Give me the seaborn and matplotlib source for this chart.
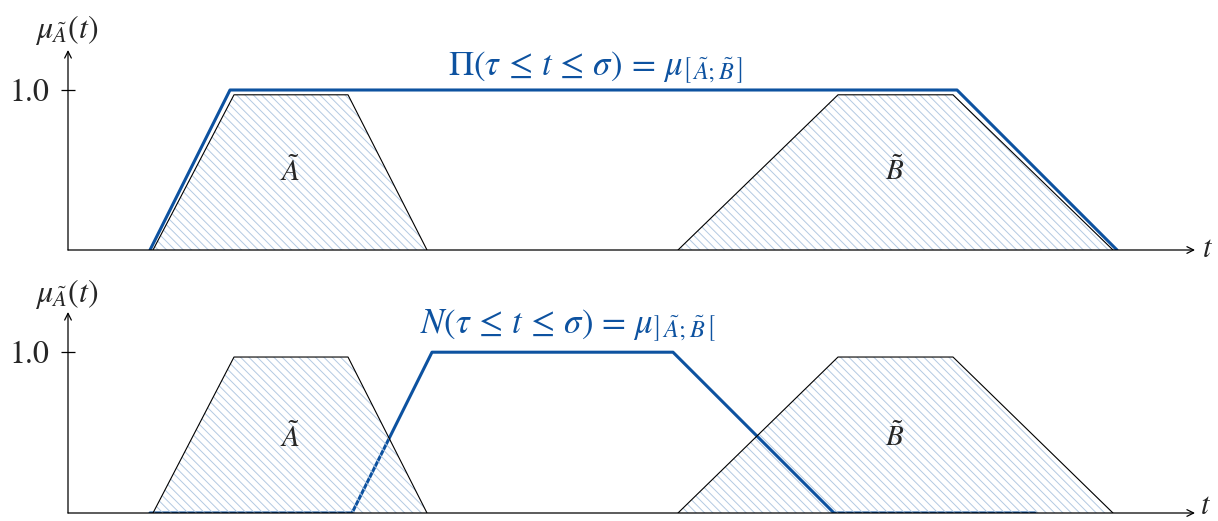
import matplotlib
matplotlib.use("Agg")
import matplotlib.pyplot as plt
import seaborn as sns
import pandas as pd

# Trapezoidal fuzzy intervals (time axis, membership degree)
t_A = [8.5, 16.6, 28.0, 35.9]
mu_A = [0.0, 0.97, 0.97, 0.0]
t_B = [61.0, 77.0, 88.5, 104.5]
mu_B = [0.0, 0.97, 0.97, 0.0]

# Possibility of the interval [A;B]
t_pi = [8.2, 16.2, 88.9, 104.9]
mu_pi = [0.0, 1.0, 1.0, 0.0]

# Necessity of the interval ]A;B[
t_nec = [8.2, 28.4, 36.4, 60.5, 76.6, 96.7]
mu_nec = [0.0, 0.0, 1.0, 1.0, 0.0, 0.0]

y_ticks = [1.0]
y_tick_labels = ["1.0"]

BLUE = "#0d52a0"
HATCH = "#b3c9e2"

sns.set_theme(style="white")
plt.rcParams["font.family"] = ["STIXGeneral", "DejaVu Serif"]
plt.rcParams["mathtext.fontset"] = "stix"
plt.rcParams["hatch.linewidth"] = 0.7

W, H = 1218, 521
fig = plt.figure(figsize=(W / 100, H / 100), dpi=100)


def px_axes(left, bottom_px, right, top_px):
    return fig.add_axes([left / W, (H - bottom_px) / H,
                         (right - left) / W, (bottom_px - top_px) / H])


def draw_panel(ax, t_line, mu_line, title, title_x, title_y, label_y,
               mu_lab_y, t_lab_x, t_lab_y):
    ax.set_xlim(0, 112.7)
    ax.set_ylim(0, 1.25)
    for s in ax.spines.values():
        s.set_visible(False)
    ax.set_xticks([])
    ax.set_yticks(y_ticks)
    ax.set_yticklabels(y_tick_labels)
    ax.tick_params(axis="y", direction="inout", length=9.5, width=0.9,
                   color="black", pad=9, labelsize=23, left=True)

    # hatched membership functions
    for t, mu, name, cx in [(t_A, mu_A, r"$\tilde{A}$", 22.2),
                            (t_B, mu_B, r"$\tilde{B}$", 82.7)]:
        ax.fill(t, mu, facecolor="none", edgecolor=HATCH, linewidth=0,
                hatch="\\\\\\\\", zorder=2)
        df = pd.DataFrame({"t": t, "mu": mu})
        sns.lineplot(data=df, x="t", y="mu", sort=False, estimator=None,
                     color="black", linewidth=0.8, ax=ax, zorder=3)
        ax.text(cx, label_y, name, fontsize=21, ha="center", va="center")

    df_line = pd.DataFrame({"t": t_line, "mu": mu_line})
    sns.lineplot(data=df_line, x="t", y="mu", sort=False, estimator=None,
                 color=BLUE, linewidth=2.2, ax=ax, zorder=1.5)

    ax.set_xlabel("")
    ax.set_ylabel("")

    # axes with arrow tips
    ax.annotate("", xy=(1, 0), xytext=(0, 0), xycoords="axes fraction",
                arrowprops=dict(arrowstyle="->", lw=0.9, color="black",
                                shrinkA=0, shrinkB=0), annotation_clip=False)
    ax.annotate("", xy=(0, 1), xytext=(0, 0), xycoords="axes fraction",
                arrowprops=dict(arrowstyle="->", lw=0.9, color="black",
                                shrinkA=0, shrinkB=0), annotation_clip=False)
    ax.text(t_lab_x, t_lab_y, r"$t$", fontsize=22, ha="center", va="center",
            clip_on=False)
    ax.text(-0.1, mu_lab_y, r"$\mu_{\tilde{A}}(t)$", fontsize=23,
            ha="center", va="center", clip_on=False)

    ax.text(title_x, title_y, title, fontsize=25, color=BLUE, ha="left",
            va="baseline", clip_on=False)


ax_top = px_axes(68, 250, 1195, 50)
draw_panel(ax_top, t_pi, mu_pi,
           r"$\Pi(\tau\,\leq\,t\,\leq\,\sigma)\,=\,"
           r"\mu_{\left[\,\tilde{A};\tilde{B}\,\right]}$",
           38.0, 1.09, 0.49, 1.375, 114.0, 0.0)

ax_bot = px_axes(68, 513, 1195, 312)
draw_panel(ax_bot, t_nec, mu_nec,
           r"$N(\tau\,\leq\,t\,\leq\,\sigma)\,=\,"
           r"\mu_{\left]\,\tilde{A};\tilde{B}\,\right[}$",
           35.2, 1.12, 0.47, 1.36, 113.8, 0.035)

fig.savefig("out.png", dpi=100, facecolor="white")
